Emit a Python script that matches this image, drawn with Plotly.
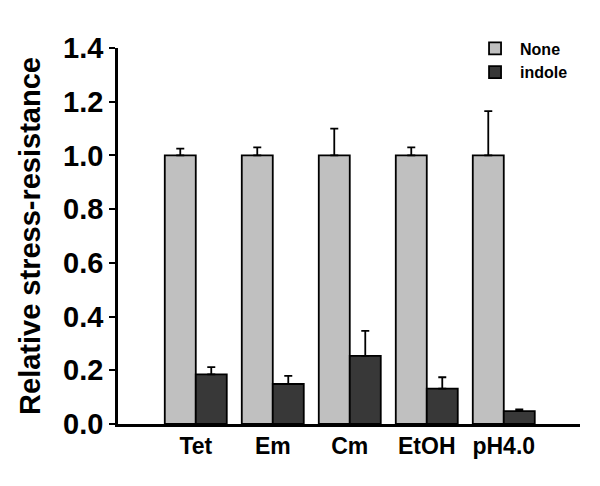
import plotly.graph_objects as go

categories = ["Tet", "Em", "Cm", "EtOH", "pH4.0"]
none_vals = [1.0, 1.0, 1.0, 1.0, 1.0]
none_err = [0.025, 0.03, 0.10, 0.03, 0.165]
indole_vals = [0.185, 0.149, 0.254, 0.132, 0.048]
indole_err = [0.027, 0.03, 0.093, 0.042, 0.006]
ytick_vals = [0.0, 0.2, 0.4, 0.6, 0.8, 1.0, 1.2, 1.4]
ytick_text = ["0.0", "0.2", "0.4", "0.6", "0.8", "1.0", "1.2", "1.4"]

FONT = "Liberation Sans, Arial, sans-serif"

fig = go.Figure()
fig.add_trace(go.Bar(
    x=categories, y=none_vals, name="None",
    marker=dict(color="#c0c0c0", line=dict(color="black", width=1.8)),
    error_y=dict(type="data", array=none_err, arrayminus=[0]*5, symmetric=False,
                 color="black", thickness=1.8, width=4),
))
fig.add_trace(go.Bar(
    x=categories, y=indole_vals, name="indole",
    marker=dict(color="#383838", line=dict(color="black", width=1.8)),
    error_y=dict(type="data", array=indole_err, arrayminus=[0]*5, symmetric=False,
                 color="black", thickness=1.8, width=4),
))

fig.update_layout(
    width=592, height=478,
    margin=dict(l=110, r=20, t=40, b=62, autoexpand=False),
    paper_bgcolor="white", plot_bgcolor="white",
    barmode="group", bargap=0.195, bargroupgap=0,
    font=dict(family=FONT, color="black"),
    legend=dict(x=0.762, y=1.044, xanchor="left", yanchor="top",
                font=dict(family=FONT, size=16, weight="bold"),
                bgcolor="rgba(0,0,0,0)", tracegroupgap=0, itemwidth=40),
    showlegend=True,
)
fig.update_xaxes(
    range=[-1.01, 4.99], showline=True, linecolor="black", linewidth=2.5,
    ticks="", showgrid=False, zeroline=False,
    tickfont=dict(family=FONT, size=23, weight="bold"),
)
fig.update_yaxes(
    range=[0, 1.4], showline=True, linecolor="black", linewidth=2.5,
    ticks="outside", ticklen=6, tickwidth=2, tickcolor="black",
    tickvals=ytick_vals, ticktext=ytick_text,
    showgrid=False, zeroline=False,
    tickfont=dict(family=FONT, size=29, weight="bold"),
    title=dict(text="Relative stress-resistance", standoff=14,
               font=dict(family=FONT, size=29, weight="bold")),
)

fig.write_html("out.html")
